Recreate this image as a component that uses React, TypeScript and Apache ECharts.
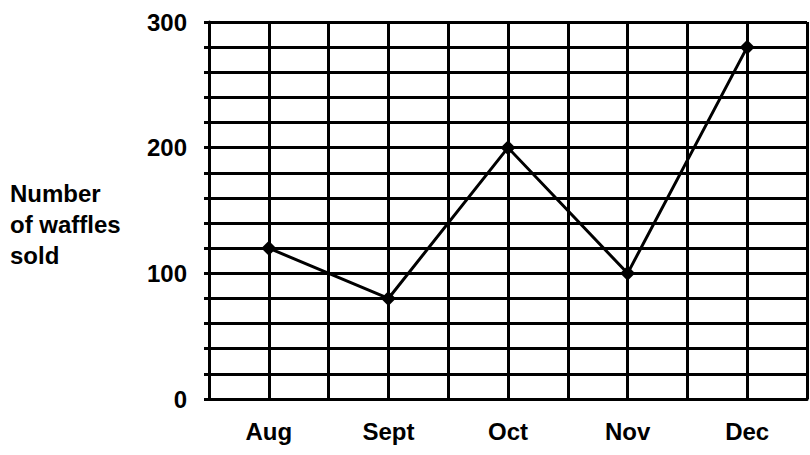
import React, { useEffect, useRef } from "react";
import * as echarts from "echarts";

const months = ["Aug", "Sept", "Oct", "Nov", "Dec"];
const waffles = [120, 80, 200, 100, 280];
const yTickLabels = [0, 100, 200, 300];
const yTitle = ["Number", "of waffles", "sold"];

export default function App() {
  const ref = useRef<HTMLDivElement>(null);
  useEffect(() => {
    if (!ref.current) return;
    const chart = echarts.init(ref.current, null, { renderer: "svg" });
    const font = "'Liberation Sans', Arial, sans-serif";
    chart.setOption({
      animation: false,
      backgroundColor: "#ffffff",
      grid: { left: 209, right: 2, top: 22, bottom: 56 },
      xAxis: {
        type: "value",
        min: 0,
        max: 10,
        interval: 1,
        axisLine: { show: true, lineStyle: { color: "#000", width: 3 } },
        axisTick: { show: false },
        splitLine: { show: true, lineStyle: { color: "#000", width: 3 } },
        axisLabel: {
          margin: 20,
          color: "#000",
          fontSize: 24,
          fontWeight: "bold",
          fontFamily: font,
          formatter: (v: number) => (v % 2 === 1 ? months[(v - 1) / 2] : ""),
        },
      },
      yAxis: {
        type: "value",
        min: 0,
        max: 300,
        interval: 20,
        axisLine: { show: true, lineStyle: { color: "#000", width: 3 } },
        axisTick: { show: true, length: 5, lineStyle: { color: "#000", width: 3 } },
        splitLine: { show: true, lineStyle: { color: "#000", width: 3 } },
        axisLabel: {
          margin: 22,
          color: "#000",
          fontSize: 24,
          fontWeight: "bold",
          fontFamily: font,
          formatter: (v: number) => (yTickLabels.includes(v) ? String(v) : ""),
        },
      },
      graphic: [
        {
          type: "text",
          left: 10,
          top: 178,
          style: {
            text: yTitle.join("\n"),
            fill: "#000",
            font: `bold 24px ${font}`,
            lineHeight: 31,
          },
        },
      ],
      series: [
        {
          type: "line",
          data: months.map((m, i) => [2 * i + 1, waffles[i]]),
          lineStyle: { color: "#000", width: 3 },
          itemStyle: { color: "#000" },
          symbol: "diamond",
          symbolSize: 15,
        },
      ],
    });
    return () => chart.dispose();
  }, []);
  return (
    <div
      ref={ref}
      style={{ position: "fixed", left: 0, top: 0, width: 810, height: 455, background: "#fff" }}
    />
  );
}
